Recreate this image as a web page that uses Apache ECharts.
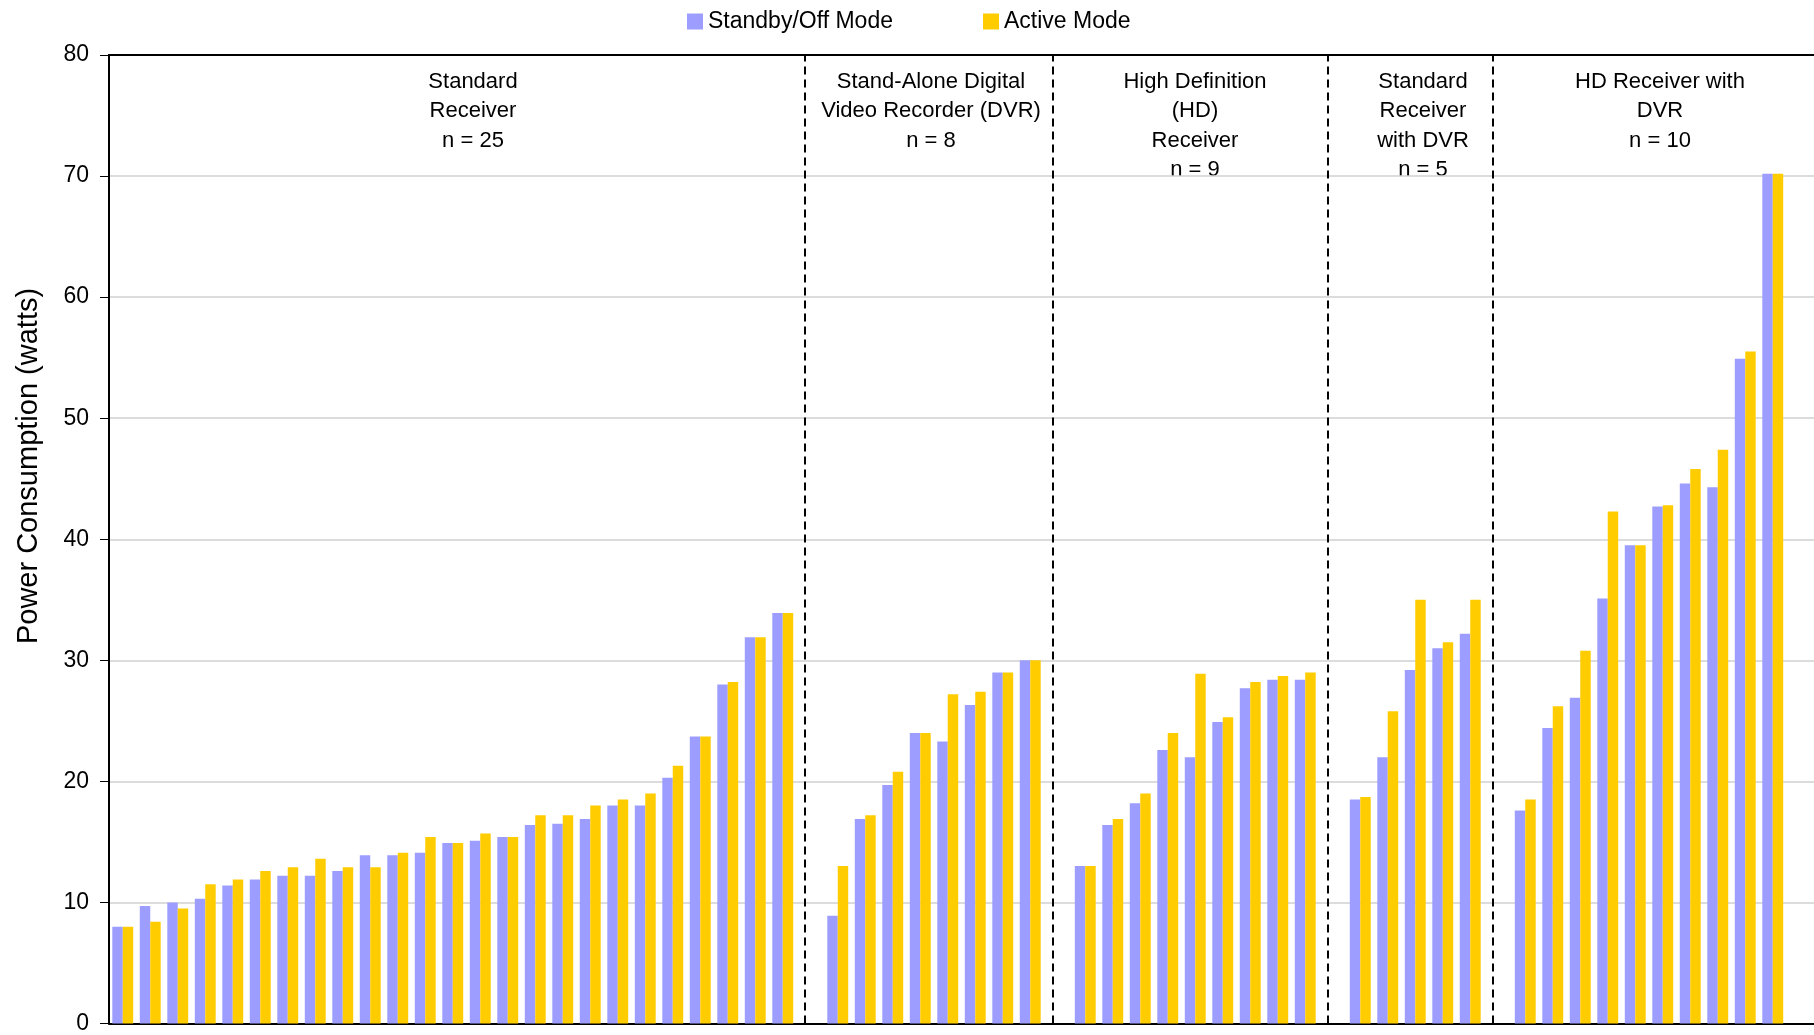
<!DOCTYPE html>
<html>
<head>
<meta charset="utf-8">
<script src="https://cdn.jsdelivr.net/npm/echarts@6/dist/echarts.min.js"></script>
<style>
  html, body { margin: 0; padding: 0; background: #fff; }
  #chart { width: 1814px; height: 1035px; }
</style>
</head>
<body>
<div id="chart"></div>
<script>
// ---- Data ----
const seriesNames = ['Standby/Off Mode', 'Active Mode'];
const groupNames = [
  'Standard\nReceiver',
  'Stand-Alone Digital\nVideo Recorder (DVR)',
  'High Definition\n(HD)\nReceiver',
  'Standard\nReceiver\nwith DVR',
  'HD Receiver with\nDVR'
];
const groupCounts = [25, 8, 9, 5, 10];

const stdStandby = [8.0, 9.7, 10.0, 10.3, 11.4, 11.9, 12.2, 12.2, 12.6, 13.9, 13.9, 14.1, 14.9, 15.1, 15.4, 16.4, 16.5, 16.9, 18.0, 18.0, 20.3, 23.7, 28.0, 31.9, 33.9];
const stdActive  = [8.0, 8.4, 9.5, 11.5, 11.9, 12.6, 12.9, 13.6, 12.9, 12.9, 14.1, 15.4, 14.9, 15.7, 15.4, 17.2, 17.2, 18.0, 18.5, 19.0, 21.3, 23.7, 28.2, 31.9, 33.9];
const dvrStandby = [8.9, 16.9, 19.7, 24.0, 23.3, 26.3, 29.0, 30.0];
const dvrActive  = [13.0, 17.2, 20.8, 24.0, 27.2, 27.4, 29.0, 30.0];
const hdStandby  = [13.0, 16.4, 18.2, 22.6, 22.0, 24.9, 27.7, 28.4, 28.4];
const hdActive   = [13.0, 16.9, 19.0, 24.0, 28.9, 25.3, 28.2, 28.7, 29.0];
const srDvrStandby = [18.5, 22.0, 29.2, 31.0, 32.2];
const srDvrActive  = [18.7, 25.8, 35.0, 31.5, 35.0];
const hdDvrStandby = [17.6, 24.4, 26.9, 35.1, 39.5, 42.7, 44.6, 44.3, 54.9, 70.2];
const hdDvrActive  = [18.5, 26.2, 30.8, 42.3, 39.5, 42.8, 45.8, 47.4, 55.5, 70.2];

const yTicks = [0, 10, 20, 30, 40, 50, 60, 70, 80];

// ---- Build categories (one empty slot after each group) ----
const standbyGroups = [stdStandby, dvrStandby, hdStandby, srDvrStandby, hdDvrStandby];
const activeGroups  = [stdActive, dvrActive, hdActive, srDvrActive, hdDvrActive];
const categories = [], standby = [], active = [], separators = [];
standbyGroups.forEach((g, gi) => {
  g.forEach((v, i) => {
    categories.push('G' + (gi + 1) + '-' + (i + 1));
    standby.push(v);
    active.push(activeGroups[gi][i]);
  });
  const gapName = 'gap' + (gi + 1);
  categories.push(gapName);
  standby.push('-');
  active.push('-');
  if (gi < standbyGroups.length - 1) separators.push(gapName);
});

const labelX = [473, 931, 1195, 1423, 1660];
const FONT = '"Liberation Sans", Arial, sans-serif';

const chart = echarts.init(document.getElementById('chart'), null, { renderer: 'canvas' });
chart.setOption({
  animation: false,
  backgroundColor: '#ffffff',
  legend: [
    { data: [seriesNames[0]], left: 687, top: 10, padding: 0, itemWidth: 16, itemHeight: 16, icon: 'rect',
      textStyle: { fontFamily: FONT, fontSize: 23, color: '#000' } },
    { data: [seriesNames[1]], left: 983, top: 10, padding: 0, itemWidth: 16, itemHeight: 16, icon: 'rect',
      textStyle: { fontFamily: FONT, fontSize: 23, color: '#000' } }
  ],
  grid: { left: 109, right: 0, top: 55, bottom: 5, containLabel: false },
  xAxis: [
    { type: 'category', data: categories, position: 'bottom',
      axisLine: { lineStyle: { color: '#000', width: 2 } },
      axisTick: { show: false }, axisLabel: { show: false }, splitLine: { show: false } },
    { type: 'category', data: categories, position: 'top',
      axisLine: { lineStyle: { color: '#000', width: 2 } },
      axisTick: { show: false }, axisLabel: { show: false }, splitLine: { show: false } }
  ],
  yAxis: {
    type: 'value', min: yTicks[0], max: yTicks[yTicks.length - 1], interval: 10,
    axisLine: { show: true, lineStyle: { color: '#000', width: 2 } },
    axisTick: { show: true, inside: false, length: 9, lineStyle: { color: '#000', width: 1 } },
    axisLabel: { margin: 20, fontFamily: FONT, fontSize: 23, color: '#000' },
    splitLine: { show: true, lineStyle: { color: '#d0d0d0', width: 1.5 } }
  },
  series: [
    { name: seriesNames[0], type: 'bar', data: standby, barGap: '0%', barCategoryGap: '24%',
      itemStyle: { color: '#9d9dff' },
      markLine: {
        silent: true, symbol: ['none', 'none'], label: { show: false },
        lineStyle: { color: '#000', type: [8, 5], width: 2 },
        data: separators.map(s => ({ xAxis: s }))
      } },
    { name: seriesNames[1], type: 'bar', data: active, barGap: '0%', barCategoryGap: '24%',
      itemStyle: { color: '#ffcc00' } }
  ],
  graphic: [
    { type: 'text', x: 29, y: 466, rotation: Math.PI / 2,
      style: { text: 'Power Consumption (watts)', font: '29px ' + FONT, fill: '#000',
               align: 'center', verticalAlign: 'middle' } }
  ].concat(groupNames.map((n, i) => ({
    type: 'text', x: labelX[i], y: 67,
    style: { text: n + '\nn = ' + groupCounts[i], font: '22px ' + FONT, fill: '#000',
             align: 'center', verticalAlign: 'top', lineHeight: 29.5 }
  })))
});
</script>
</body>
</html>
